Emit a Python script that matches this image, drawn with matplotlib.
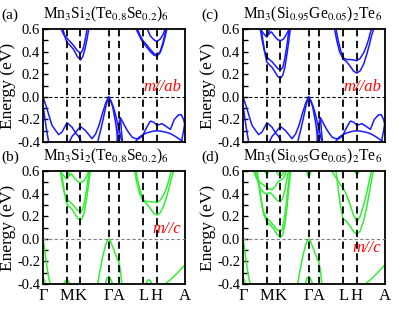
import matplotlib
matplotlib.use('Agg')
import matplotlib.pyplot as plt

plt.rcParams['font.family'] = 'Liberation Serif'
plt.rcParams['mathtext.fontset'] = 'stix'

# high-symmetry points along the path (fraction of path length)
kpts = [0.0, 0.167, 0.264, 0.462, 0.535, 0.705, 0.802, 1.0]
klabels = ['Γ', 'M', 'K', 'Γ', 'A', 'L', 'H', 'A']

titles = ['Mn$_3$Si$_2$(Te$_{0.8}$Se$_{0.2}$)$_6$',
          'Mn$_3$(Si$_{0.95}$Ge$_{0.05}$)$_2$Te$_6$']
tags = ['(a)', '(b)', '(c)', '(d)']
notes = ['m//ab', 'm//c', 'm//ab', 'm//c']

# ---- bands: each entry is (k, E) ----
# panel (a) conduction
cond_a = [
    ([0.14, 0.155, 0.167, 0.19, 0.215, 0.24, 0.264, 0.28, 0.295, 0.31, 0.322],
     [0.6, 0.53, 0.485, 0.455, 0.42, 0.36, 0.326, 0.355, 0.42, 0.51, 0.6]),
    ([0.128, 0.145, 0.167, 0.19, 0.215, 0.24, 0.264, 0.278, 0.29, 0.302, 0.31],
     [0.6, 0.55, 0.52, 0.49, 0.455, 0.41, 0.385, 0.41, 0.46, 0.54, 0.6]),
    ([0.655, 0.675, 0.69, 0.705, 0.73, 0.755, 0.78, 0.802, 0.825, 0.845, 0.86, 0.872],
     [0.6, 0.55, 0.51, 0.48, 0.44, 0.40, 0.37, 0.36, 0.39, 0.46, 0.53, 0.6]),
    ([0.665, 0.685, 0.705, 0.73, 0.755, 0.78, 0.802, 0.825, 0.84, 0.855, 0.866],
     [0.6, 0.54, 0.495, 0.46, 0.42, 0.385, 0.365, 0.40, 0.46, 0.53, 0.6]),
    ([0.735, 0.755, 0.78, 0.802, 0.825, 0.845, 0.86],
     [0.6, 0.54, 0.505, 0.49, 0.51, 0.55, 0.6]),
]

# panel (c) conduction; panel (b) looks the same
cond_c = [
    ([0.12, 0.145, 0.167, 0.185, 0.2, 0.22, 0.245, 0.264, 0.285, 0.305, 0.325],
     [0.6, 0.56, 0.53, 0.56, 0.575, 0.54, 0.505, 0.497, 0.51, 0.55, 0.6]),
    ([0.167, 0.18, 0.19],
     [0.53, 0.57, 0.6]),
    ([0.128, 0.14, 0.155, 0.167, 0.185, 0.205, 0.225, 0.245, 0.264, 0.28, 0.295, 0.31, 0.322, 0.333],
     [0.6, 0.5, 0.38, 0.31, 0.285, 0.26, 0.22, 0.18, 0.164, 0.19, 0.26, 0.38, 0.49, 0.6]),
    ([0.122, 0.135, 0.15, 0.167, 0.185, 0.205, 0.225, 0.245, 0.264, 0.28, 0.293, 0.305, 0.315, 0.325],
     [0.6, 0.5, 0.41, 0.355, 0.33, 0.31, 0.28, 0.25, 0.237, 0.26, 0.33, 0.42, 0.51, 0.6]),
    ([0.645, 0.66, 0.68, 0.705, 0.73, 0.755, 0.78, 0.802, 0.825, 0.85, 0.87, 0.89, 0.905, 0.92],
     [0.6, 0.5, 0.4, 0.335, 0.31, 0.27, 0.225, 0.21, 0.23, 0.29, 0.37, 0.46, 0.54, 0.6]),
    ([0.655, 0.67, 0.69, 0.705, 0.73, 0.755, 0.78, 0.802, 0.825, 0.85, 0.87, 0.885, 0.897, 0.905],
     [0.6, 0.5, 0.4, 0.345, 0.33, 0.33, 0.325, 0.32, 0.34, 0.39, 0.45, 0.51, 0.57, 0.6]),
]

# panel (d) conduction
cond_d = [
    ([0.1, 0.115, 0.13, 0.145, 0.167, 0.19, 0.215, 0.24, 0.264, 0.28, 0.295, 0.31, 0.322, 0.335],
     [0.6, 0.47, 0.33, 0.22, 0.15, 0.125, 0.09, 0.04, 0.01, 0.04, 0.13, 0.28, 0.44, 0.6]),
    ([0.095, 0.11, 0.125, 0.14, 0.167, 0.19, 0.215, 0.24, 0.264, 0.278, 0.29, 0.305, 0.318, 0.33],
     [0.6, 0.48, 0.36, 0.25, 0.18, 0.155, 0.12, 0.08, 0.065, 0.09, 0.17, 0.31, 0.46, 0.6]),
    ([0.085, 0.1, 0.12, 0.145, 0.167, 0.19, 0.215, 0.24, 0.264, 0.28, 0.295, 0.31, 0.32],
     [0.6, 0.52, 0.45, 0.41, 0.395, 0.41, 0.38, 0.34, 0.33, 0.36, 0.43, 0.53, 0.6]),
    ([0.075, 0.09, 0.11, 0.13, 0.15, 0.167, 0.185, 0.205, 0.225, 0.245, 0.264, 0.28, 0.295, 0.305],
     [0.6, 0.55, 0.51, 0.49, 0.47, 0.455, 0.44, 0.435, 0.46, 0.5, 0.52, 0.53, 0.56, 0.6]),
    ([0.235, 0.25, 0.264, 0.278, 0.29],
     [0.6, 0.565, 0.56, 0.565, 0.6]),
    ([0.15, 0.167, 0.185],
     [0.6, 0.575, 0.6]),
    ([0.448, 0.455, 0.462, 0.47, 0.477],
     [0.6, 0.565, 0.55, 0.565, 0.6]),
    ([0.625, 0.645, 0.665, 0.685, 0.705, 0.725, 0.75, 0.775, 0.802, 0.825, 0.85, 0.87, 0.89, 0.905],
     [0.6, 0.56, 0.52, 0.48, 0.45, 0.4, 0.32, 0.22, 0.15, 0.2, 0.3, 0.4, 0.52, 0.6]),
    ([0.655, 0.67, 0.685, 0.705, 0.725, 0.75, 0.775, 0.802, 0.825, 0.85, 0.87, 0.89, 0.905, 0.918],
     [0.6, 0.45, 0.3, 0.175, 0.16, 0.12, 0.07, 0.04, 0.07, 0.16, 0.27, 0.41, 0.52, 0.6]),
    ([0.785, 0.795, 0.802, 0.81, 0.82],
     [0.6, 0.58, 0.575, 0.58, 0.6]),
]

# valence bands, m//ab (panels a and c look alike)
val_ab = [
    ([0.0, 0.028, 0.063, 0.11, 0.134, 0.169, 0.204, 0.228, 0.263, 0.298, 0.345, 0.37, 0.395, 0.42, 0.443, 0.462],
     [0.0, -0.106, -0.253, -0.335, -0.312, -0.229, -0.268, -0.318, -0.262, -0.297, -0.37, -0.33, -0.25, -0.14, -0.05, 0.0]),
    ([0.385, 0.405, 0.425, 0.445, 0.462],
     [-0.4, -0.3, -0.19, -0.07, 0.0]),
    ([0.462, 0.475, 0.491, 0.503, 0.514, 0.528],
     [0.0, -0.03, -0.09, -0.17, -0.25, -0.4]),
    ([0.462, 0.48, 0.498, 0.513, 0.528, 0.556],
     [0.0, -0.04, -0.1, -0.17, -0.25, -0.4]),
    ([0.521, 0.532, 0.545, 0.56, 0.58, 0.6, 0.627, 0.65, 0.674, 0.692, 0.709, 0.73, 0.756, 0.78, 0.803, 0.82,
      0.838, 0.865, 0.897, 0.925, 0.955, 0.974, 0.99, 1.0],
     [-0.4, -0.25, -0.185, -0.22, -0.268, -0.31, -0.356, -0.37, -0.371, -0.355, -0.326, -0.27, -0.215, -0.225,
      -0.253, -0.245, -0.238, -0.26, -0.288, -0.2, -0.159, -0.159, -0.2, -0.253]),
    ([0.545, 0.552, 0.56],
     [-0.185, -0.3, -0.4]),
    ([0.65, 0.675, 0.697, 0.73, 0.768, 0.8, 0.838, 0.87, 0.897, 0.925, 0.955, 0.99],
     [-0.4, -0.36, -0.34, -0.32, -0.306, -0.3, -0.306, -0.315, -0.326, -0.345, -0.37, -0.4]),
    ([0.975, 0.99, 1.0],
     [-0.4, -0.3, -0.22]),
    ([0.0, 0.01, 0.02, 0.03, 0.04],
     [-0.08, -0.16, -0.25, -0.33, -0.4]),
    ([0.185, 0.205, 0.228, 0.25, 0.27],
     [-0.4, -0.35, -0.318, -0.35, -0.4]),
]

# valence bands, m//c (panels b and d)
val_c_common = [
    ([0.0, 0.012, 0.025, 0.038, 0.05],
     [0.0, -0.1, -0.22, -0.33, -0.4]),
    ([0.0, 0.01, 0.02],
     [-0.34, -0.37, -0.4]),
    ([0.385, 0.40, 0.42, 0.44, 0.452, 0.462, 0.475, 0.49, 0.505, 0.52, 0.535, 0.545, 0.555],
     [-0.4, -0.29, -0.16, -0.06, -0.015, 0.0, -0.02, -0.07, -0.12, -0.17, -0.21, -0.28, -0.4]),
    ([0.44, 0.45, 0.462, 0.475, 0.49],
     [-0.4, -0.35, -0.335, -0.35, -0.4]),
    ([0.86, 0.9, 0.94, 0.97, 1.0],
     [-0.4, -0.36, -0.31, -0.27, -0.23]),
]
val_b_extra = [
    ([0.145, 0.155, 0.167, 0.18, 0.19],
     [-0.4, -0.375, -0.365, -0.375, -0.4]),
    ([0.725, 0.735, 0.745, 0.755, 0.765],
     [-0.4, -0.37, -0.362, -0.37, -0.4]),
]

panel_bands = [cond_a + val_ab,
               cond_c + val_c_common + val_b_extra,
               cond_c + val_ab,
               cond_d + val_c_common]
panel_colors = ['#1a1aff', '#33ee33', '#1a1aff', '#33ee33']

fig = plt.figure(figsize=(3.99, 3.13), dpi=100)
W, H = 399.0, 313.0
boxes = [(43, 29), (43, 171), (243, 29), (243, 171)]  # left, top in pixels

for i in range(4):
    left, top = boxes[i]
    ax = fig.add_axes([left / W, 1 - (top + 113) / H, 142 / W, 113 / H])
    col = panel_colors[i]
    for k, e in panel_bands[i]:
        ax.plot(k, e, color=col, lw=1.1, solid_capstyle='round')
    for x in kpts[1:-1]:
        ax.axvline(x, color='black', lw=1.3, ls=(0, (4, 2.5)), zorder=3)
    zcol = 'black' if i in (0, 2) else 'gray'
    ax.axhline(0, color=zcol, lw=0.8, ls=(0, (3, 2)), zorder=3)

    ax.set_xlim(0, 1)
    ax.set_ylim(-0.4, 0.6)
    ax.set_yticks([-0.4, -0.2, 0.0, 0.2, 0.4, 0.6])
    ax.set_yticks([-0.3, -0.1, 0.1, 0.3, 0.5], minor=True)
    ax.set_yticklabels(['-0.4', '-0.2', '0.0', '0.2', '0.4', '0.6'])
    ax.tick_params(axis='y', which='both', direction='in', length=3.5, width=1.0,
                   labelsize=10.5, pad=2)
    ax.set_xticks(kpts)
    if i in (1, 3):
        ax.set_xticklabels(klabels)
    else:
        ax.set_xticklabels([])
    ax.tick_params(axis='x', length=0, labelsize=12, pad=3)
    for s in ax.spines.values():
        s.set_linewidth(1.3)
    ax.set_ylabel('Energy (eV)', fontsize=12.5, labelpad=1)

    note_y = -0.08 if i == 3 else 0.085
    ax.text(0.975, note_y, notes[i], color='red', fontstyle='italic', fontsize=12,
            ha='right', va='center')

    ttl_y = 1 - (top - 10.5) / H
    fig.text(left / W, ttl_y, titles[i // 2], fontsize=11.2, ha='left', va='baseline')
    fig.text((left - 42) / W, ttl_y, tags[i], fontsize=11, ha='left', va='baseline')

fig.savefig('out.png', dpi=100)
